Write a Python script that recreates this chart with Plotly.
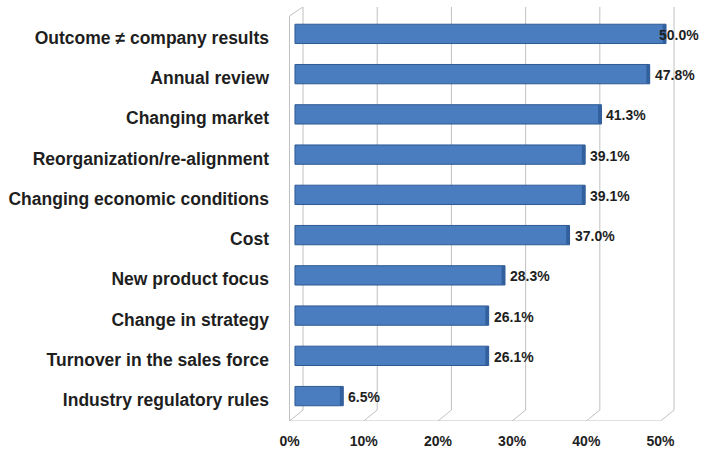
import numpy as np
import plotly.graph_objects as go

# Survey responses: reasons for changing the sales compensation plan
categories = [
    "Outcome ≠ company results",
    "Annual review",
    "Changing market",
    "Reorganization/re-alignment",
    "Changing economic conditions",
    "Cost",
    "New product focus",
    "Change in strategy",
    "Turnover in the sales force",
    "Industry regulatory rules",
]
values = np.array([50.0, 47.8, 41.3, 39.1, 39.1, 37.0, 28.3, 26.1, 26.1, 6.5])
tick_vals = [0, 10, 20, 30, 40, 50]
tick_text = ["0%", "10%", "20%", "30%", "40%", "50%"]

# Pseudo-3D box geometry (in axis units)
DX_BACK = 1.08      # back wall sits behind the bars
DX_FRONT = -0.74    # front floor edge sits in front of the bars
X_RANGE = [-1.48, 54.58]
Y_RANGE = [9.619, -0.668]  # reversed category axis, extended to hold the box
Y_BACK_BOTTOM = 9.347
Y_FRONT_BOTTOM = Y_RANGE[0]
Y_BACK_TOP = Y_RANGE[1]
Y_FRONT_TOP = -0.445
CAP_W = 0.45

BAR_BLUE = "#4a7cc0"
BAR_EDGE = "#2e5a93"
CAP_BLUE = "#31609c"
GRID = "#c0c0c0"
TEXT = "#1e1e1e"
FONT = "Liberation Sans, Arial, sans-serif"

fig = go.Figure()

# main bars
fig.add_trace(go.Bar(
    y=categories, x=values, orientation="h", width=0.48,
    marker=dict(color=BAR_BLUE, line=dict(color=BAR_EDGE, width=1)),
    hoverinfo="x+y", showlegend=False,
))
# darker end caps giving the bars some depth
fig.add_trace(go.Bar(
    y=categories, x=[CAP_W] * len(values), base=values - CAP_W,
    orientation="h", width=0.46,
    marker=dict(color=CAP_BLUE, line=dict(width=0)),
    hoverinfo="skip", showlegend=False,
))
# carrier for the front-edge tick axis
fig.add_trace(go.Scatter(
    x=tick_vals, y=[categories[-1]] * len(tick_vals), xaxis="x2",
    mode="markers", marker=dict(opacity=0), hoverinfo="skip", showlegend=False,
))

shapes = []
line_style = dict(color=GRID, width=1)
for v in tick_vals:
    # vertical gridline on the back wall
    shapes.append(dict(type="line", xref="x", yref="y",
                       x0=v + DX_BACK, x1=v + DX_BACK, y0=Y_BACK_TOP, y1=Y_BACK_BOTTOM,
                       line=line_style, layer="below"))
    # receding floor line
    shapes.append(dict(type="line", xref="x", yref="y",
                       x0=v + DX_BACK, x1=v + DX_FRONT, y0=Y_BACK_BOTTOM, y1=Y_FRONT_BOTTOM,
                       line=line_style, layer="below"))
# front edge of the floor
shapes.append(dict(type="line", xref="x", yref="y",
                   x0=tick_vals[0] + DX_FRONT, x1=tick_vals[-1] + DX_FRONT,
                   y0=Y_FRONT_BOTTOM, y1=Y_FRONT_BOTTOM, line=line_style, layer="below"))
# left side wall: front edge and top edge
shapes.append(dict(type="line", xref="x", yref="y",
                   x0=tick_vals[0] + DX_FRONT, x1=tick_vals[0] + DX_FRONT,
                   y0=Y_FRONT_TOP, y1=Y_FRONT_BOTTOM, line=line_style, layer="below"))
shapes.append(dict(type="line", xref="x", yref="y",
                   x0=tick_vals[0] + DX_FRONT, x1=tick_vals[0] + DX_BACK,
                   y0=Y_FRONT_TOP, y1=Y_BACK_TOP, line=line_style, layer="below"))

# value labels, kept inside the chart at the right edge
label_x = np.minimum(values, 48.4)
annotations = [
    dict(x=lx, y=c, xref="x", yref="y", text=f"{v:.1f}%", showarrow=False,
         xanchor="left", yanchor="middle", xshift=3, yshift=-1,
         font=dict(family=FONT, size=14, color=TEXT, weight="bold"))
    for lx, c, v in zip(label_x, categories, values)
]

fig.update_layout(
    width=705, height=454,
    margin=dict(l=284, r=5, t=7, b=31),
    paper_bgcolor="white", plot_bgcolor="white",
    barmode="overlay", bargap=0.5,
    shapes=shapes, annotations=annotations,
    xaxis=dict(range=X_RANGE, showgrid=False, zeroline=False,
               showticklabels=False, showline=False, ticks=""),
    xaxis2=dict(range=[X_RANGE[0] - DX_FRONT, X_RANGE[1] - DX_FRONT], overlaying="x",
                anchor="y", side="bottom", tickvals=tick_vals, ticktext=tick_text,
                showgrid=False, zeroline=False, showline=False, ticks="",
                ticklabelstandoff=10,
                tickfont=dict(family=FONT, size=14, color=TEXT, weight="bold")),
    yaxis=dict(type="category", categoryarray=categories, range=Y_RANGE,
               showgrid=False, zeroline=False, showline=False, ticks="",
               ticklabelstandoff=14, ticklabelshift=-4,
               tickfont=dict(family=FONT, size=17.5, color=TEXT, weight="bold")),
)

fig.write_html("out.html")
